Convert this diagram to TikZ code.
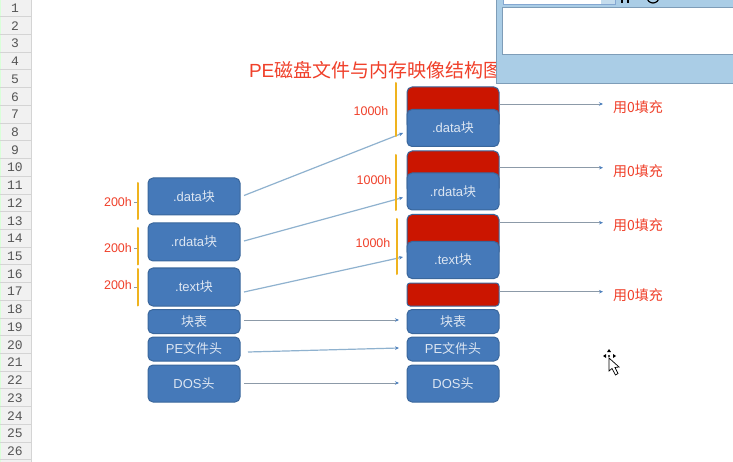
\documentclass[tikz,border=0pt]{standalone}
\usepackage{fontspec}
\setmainfont{Liberation Sans}
\newfontfamily\cjk{Noto Sans CJK SC}
\newfontfamily\rowfont{Liberation Mono}
\usetikzlibrary{arrows.meta}
\definecolor{boxblue}{HTML}{4579B9}
\definecolor{boxedge}{HTML}{3A679C}
\definecolor{fillred}{HTML}{CB1500}
\definecolor{labred}{HTML}{F0402A}
\definecolor{boxtext}{HTML}{DDE6F2}
\definecolor{lineblue}{HTML}{8FB2CF}
\definecolor{linegray}{HTML}{8C9AA8}
\definecolor{arrowblue}{HTML}{4F81BD}
\definecolor{brace}{HTML}{EFB31E}
\definecolor{winblue}{HTML}{AACDE6}
\definecolor{winedge}{HTML}{7E9DB8}
\definecolor{hdrgray}{HTML}{F1F1F1}
\definecolor{hdrline}{HTML}{D4D4D4}
\definecolor{hdrtext}{HTML}{555555}
\tikzset{
  x=1pt,y=-1pt,
  every node/.style={inner sep=0pt,outer sep=0pt},
  blockbox/.style={draw=boxedge,line width=1pt,fill=boxblue,rounded corners=5pt,text=boxtext,font=\fontsize{13}{15}\selectfont,minimum width=92pt,anchor=north west},
  redbox/.style={blockbox,fill=fillred,draw=boxedge},
  oneline/.style={draw=lineblue,line width=1.2pt},
  grayline/.style={draw=linegray,line width=1pt},
  toarrow/.style={-{Stealth[length=4pt,width=3.5pt,color=arrowblue]}},
  fillline/.style={draw=linegray,line width=.9pt,-{Stealth[length=4pt,width=3.5pt,color=arrowblue]}},
  sizebar/.style={draw=brace,line width=2pt,line cap=round},
  sizetick/.style={draw=linegray,line width=.6pt},
  sizelab/.style={text=labred,font=\fontsize{12.5}{14}\selectfont},
  filllab/.style={text=labred,font=\fontsize{14}{16}\selectfont\cjk,anchor=west},
  rownum/.style={text=hdrtext,font=\fontsize{13}{14}\selectfont\rowfont},
}
\newcommand{\kuai}{{\cjk 块}}
\begin{document}
\begin{tikzpicture}
\useasboundingbox (0,0) rectangle (733,462);
\fill[white] (0,0) rectangle (733,462);
% row header
\fill[hdrgray] (0,0) rectangle (31,462);
\fill[green!15!white] (0,0) rectangle (1.2,462);
\draw[hdrline,line width=.8pt] (31,0) -- (31,462);
\foreach \n in {1,...,26}{
  \draw[hdrline,line width=.8pt] (0,{17.72*\n-1}) -- (31,{17.72*\n-1});
  \node[rownum] at (15,{17.72*\n-9.6}) {\n};
}
% title
\node[anchor=west,text=labred,font=\fontsize{19}{21}\selectfont] (title) at (249,70) {PE{\cjk 磁盘文件与内存映像结构图}};
% window
\fill[winblue] (496,-2) rectangle (735,83);
\draw[winedge,line width=.7pt] (496,-2) -- (496,83) -- (735,83);
\fill[white,draw=winedge,line width=.7pt] (502,7) rectangle (735,54);
\fill[white,draw=arrowblue!70,line width=.7pt] (503,-3) rectangle (615,4);
\fill[winblue!70!white] (601,-3) rectangle (615,4);
\draw[black,line width=1.5pt] (622,-1) -- (622,3) (628,-1) -- (628,3);
\draw[black,line width=1.2pt] (653,-3) circle (6pt);
% left column
\node[blockbox,minimum height=37pt] (ldata) at (148,178) {.data\kuai};
\node[blockbox,minimum height=38pt] (lrdata) at (148,223) {.rdata\kuai};
\node[blockbox,minimum height=38pt] (ltext) at (148,268) {.text\kuai};
\node[blockbox,minimum height=24pt] (ltable) at (148,309.5) {{\cjk 块表}};
\node[blockbox,minimum height=24pt] (lpe) at (148,337) {PE{\cjk 文件头}};
\node[blockbox,minimum height=37pt] (ldos) at (148,365) {DOS{\cjk 头}};
% right column
\node[redbox,minimum height=42pt] (rdatared) at (407,87) {};
\node[blockbox,minimum height=37pt] (rdata) at (407,109.5) {.data\kuai};
\node[redbox,minimum height=42pt] (rrdatared) at (407,151) {};
\node[blockbox,minimum height=37pt] (rrdata) at (407,173) {.rdata\kuai};
\node[redbox,minimum height=42pt] (rtextred) at (407,214.5) {};
\node[blockbox,minimum height=37pt] (rtext) at (407,241.5) {.text\kuai};
\node[redbox,minimum height=23pt,rounded corners=3pt] (rbss) at (407,283) {};
\node[blockbox,minimum height=24pt] (rtable) at (407,309.5) {{\cjk 块表}};
\node[blockbox,minimum height=24pt] (rpe) at (407,337) {PE{\cjk 文件头}};
\node[blockbox,minimum height=37pt] (rdos) at (407,365) {DOS{\cjk 头}};
% file to memory connectors
\draw[oneline,toarrow] ([shift={(4,-1)}]ldata.east) -- ([shift={(-4,5)}]rdata.west);
\draw[oneline,toarrow] ([shift={(4,-1)}]lrdata.east) -- ([shift={(-4,6)}]rrdata.west);
\draw[oneline,toarrow] ([shift={(4,5)}]ltext.east) -- ([shift={(-4,-3)}]rtext.west);
\draw[grayline,toarrow] ([shift={(4,-1.5)}]ltable.east) -- ([shift={(-8,-1.5)}]rtable.west);
\draw[oneline,toarrow] ([shift={(8,3)}]lpe.east) -- ([shift={(-8,-1)}]rpe.west);
\draw[grayline,toarrow] ([shift={(4,-0.5)}]ldos.east) -- ([shift={(-8,-0.5)}]rdos.west);
% fill labels and connectors
\node[filllab] (f1) at (613,107) {用0填充};
\node[filllab] (f2) at (613,171) {用0填充};
\node[filllab] (f3) at (613,225.5) {用0填充};
\node[filllab] (f4) at (613,295) {用0填充};
\draw[fillline] ([shift={(0,-4)}]rdatared.east) -- ([shift={(-10,-3)}]f1.west);
\draw[fillline] ([shift={(0,-4.3)}]rrdatared.east) -- ([shift={(-10,-3.3)}]f2.west);
\draw[fillline] ([shift={(0,-12.8)}]rtextred.east) -- ([shift={(-10,-2.8)}]f3.west);
\draw[fillline] ([shift={(0,-2.8)}]rbss.east) -- ([shift={(-10,-3.3)}]f4.west);
% size bars
\draw[sizebar] (137.5,183) -- (137.5,219);
\draw[sizebar] (137.5,228) -- (137.5,264.5);
\draw[sizebar] (137.5,269) -- (137.5,305.5);
\draw[sizebar] (396,83) -- (396,136);
\draw[sizebar] (396,155) -- (396,210);
\draw[sizebar] (397,219) -- (397,274);
\draw[sizetick] (134,202) -- (136.5,202) (134,248) -- (136.5,248) (134,287) -- (136.5,287);
\node[sizelab] (s1) at (118,202) {200h};
\node[sizelab] (s2) at (118,248) {200h};
\node[sizelab] (s3) at (118,285) {200h};
\node[sizelab] (s4) at (371,111) {1000h};
\node[sizelab] (s5) at (374,180) {1000h};
\node[sizelab] (s6) at (373,243) {1000h};
% cursor
\begin{scope}[shift={(609,358)}]
\draw[fill=white,draw=black,line width=.7pt] (0,0) -- (0,13) -- (3,10.5) -- (6.5,17) -- (9,15.5) -- (6,9.5) -- (10,9) -- cycle;
\fill[black] (0,-9) -- (2,-6) -- (-2,-6) -- cycle;
\fill[black] (-6,-2) -- (-3,-4) -- (-3,0) -- cycle;
\fill[black] (7,-2) -- (4,-4) -- (4,0) -- cycle;
\fill[black] (0,-2) circle (1.2pt);
\end{scope}
\end{tikzpicture}
\end{document}
